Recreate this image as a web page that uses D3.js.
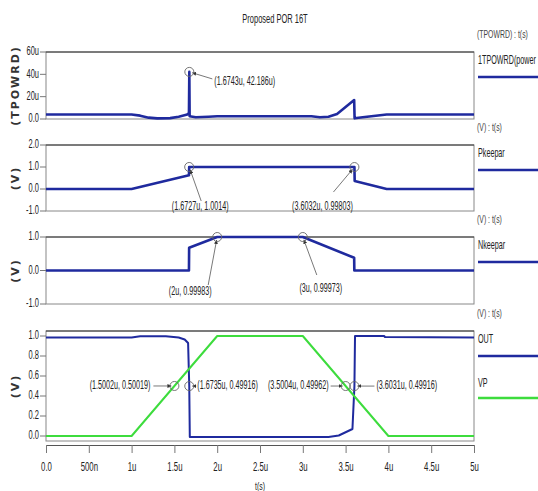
<!DOCTYPE html>
<html>
<head>
<meta charset="utf-8">
<script src="https://cdn.jsdelivr.net/npm/d3@7"></script>
<style>
  body { margin: 0; background: #fff; }
  svg { display: block; }
  text { font-family: "Liberation Sans", Arial, sans-serif; fill: #222; }
  .ylab { font-family: "DejaVu Sans", sans-serif; font-weight: bold; font-size: 11px; letter-spacing: 2px; fill: #333; }
</style>
</head>
<body>
<svg id="chart"></svg>
<script>
(function() {

  // time axis (microseconds)
  const timeTicks = [0, 0.5, 1, 1.5, 2, 2.5, 3, 3.5, 4, 4.5, 5];
  const timeLabels = ['0.0', '500n', '1u', '1.5u', '2u', '2.5u', '3u', '3.5u', '4u', '4.5u', '5u'];

  // y tick values / labels per panel
  const powTicks = [0, 20, 40, 60];
  const powLabels = ['0.0', '20u', '40u', '60u'];
  const pkTicks = [-1, 0, 1, 2];
  const pkLabels = ['-1.0', '0.0', '1.0', '2.0'];
  const nkTicks = [-1, 0, 1];
  const nkLabels = ['-1.0', '0.0', '1.0'];
  const outTicks = [0, 0.2, 0.4, 0.6, 0.8, 1.0];
  const outLabels = ['0.0', '0.2', '0.4', '0.6', '0.8', '1.0'];

  // series: [t (us), value]
  const tpowrd = [[0, 4], [1.0, 4], [1.1, 3], [1.2, 1.2], [1.3, 0.6], [1.45, 0.8], [1.55, 2], [1.65, 4],
    [1.67, 5.5], [1.6743, 42.186], [1.678, 2.5], [1.75, 1.6], [1.9, 2], [2.0, 2.4], [3.1, 2.4], [3.2, 1.5],
    [3.3, 2], [3.4, 4.5], [3.6, 17], [3.605, 0.6], [3.7, 1.5], [3.98, 4], [5, 4]];
  const pkeepar = [[0, 0], [1, 0], [1.67, 0.62], [1.6727, 1.0014], [3.6032, 0.99803], [3.606, 0.36], [3.98, 0], [5, 0]];
  const nkeepar = [[0, 0], [1.67, 0], [1.672, 0.68], [2, 0.99983], [3, 0.99973], [3.6, 0.38], [3.602, 0], [5, 0]];
  const out = [[0, 0.984], [1, 0.985], [1.1, 0.997], [1.4, 0.997], [1.55, 0.985], [1.62, 0.965], [1.66, 0.93],
    [1.6735, 0.49916], [1.68, -0.01], [3.3, -0.01], [3.42, 0.005], [3.58, 0.07], [3.6031, 0.49916], [3.61, 1.0],
    [3.95, 1.0], [3.96, 0.99], [5, 0.985]];
  const vp = [[0, 0], [1, 0], [2, 1], [3, 1], [4, 0], [5, 0]];

  // cursor markers: [t, value, label]
  const powMarks = [[1.6743, 42.186, '(1.6743u, 42.186u)']];
  const pkMarks = [[1.6727, 1.0014, '(1.6727u, 1.0014)'], [3.6032, 0.99803, '(3.6032u, 0.99803)']];
  const nkMarks = [[2, 0.99983, '(2u, 0.99983)'], [3, 0.99973, '(3u, 0.99973)']];
  const outMarks = [[1.5002, 0.50019, '(1.5002u, 0.50019)'], [1.6735, 0.49916, '(1.6735u, 0.49916)'],
    [3.5004, 0.49962, '(3.5004u, 0.49962)'], [3.6031, 0.49916, '(3.6031u, 0.49916)']];

  const blue = '#1f2a9e';
  const green = '#3ddc3d';
  const SX = 0.6; // the plot's lettering is tall and narrow

  const width = 538, height = 491;
  const left = 46, right = 474;

  const svg = d3.select('#chart').attr('width', width).attr('height', height);

  // narrow text: drawn at (x, y) and squeezed horizontally
  function ntext(parent, x, y, str, size, anchor) {
    return parent.append('text')
      .attr('transform', 'translate(' + x + ',' + y + ') scale(' + SX + ',1)')
      .attr('text-anchor', anchor || 'start')
      .attr('dominant-baseline', 'middle')
      .style('font-size', size + 'px')
      .text(str);
  }

  svg.append('defs').append('marker')
    .attr('id', 'arr')
    .attr('viewBox', '0 0 6 6')
    .attr('refX', 6).attr('refY', 3)
    .attr('markerWidth', 5).attr('markerHeight', 5)
    .attr('orient', 'auto')
    .append('path').attr('d', 'M0,0 L6,3 L0,6 z').attr('fill', '#333');

  const x = d3.scaleLinear().domain([0, 5]).range([left, right]);

  // label layout per marker: [dx, dy, anchor, leaderX, leaderY] relative to the point
  const panels = [
    { top: 52, bottom: 119, domain: [0, 60], ticks: powTicks, labels: powLabels, ylab: '(TPOWRD)',
      head: '(TPOWRD) : t(s)',
      series: [{ data: tpowrd, color: blue, w: 2.6, name: '1TPOWRD(power' }],
      marks: powMarks, layout: [[25, 10, 'start', 23, 7]] },
    { top: 145, bottom: 211, domain: [-1, 2], ticks: pkTicks, labels: pkLabels, ylab: '(V)',
      head: '(V) : t(s)',
      series: [{ data: pkeepar, color: blue, w: 2.6, name: 'Pkeepar' }],
      marks: pkMarks, layout: [[11, 40, 'middle', 12, 34], [-32, 40, 'middle', -21, 25]] },
    { top: 237, bottom: 304, domain: [-1, 1], ticks: nkTicks, labels: nkLabels, ylab: '(V)',
      head: '(V) : t(s)',
      series: [{ data: nkeepar, color: blue, w: 2.6, name: 'Nkeepar' }],
      marks: nkMarks, layout: [[-27, 55, 'middle', -9, 48], [18, 52, 'middle', 14, 38]] },
    { top: 331, bottom: 441, domain: [-0.05, 1.05], ticks: outTicks, labels: outLabels, ylab: '(V)',
      head: '(V) : t(s)',
      series: [{ data: out, color: blue, w: 2, name: 'OUT' }, { data: vp, color: green, w: 2, name: 'VP' }],
      marks: outMarks,
      layout: [[-24, 0, 'end', -21, 0], [8, 0, 'start', 7, 0], [-17, 0, 'end', -15, 0], [22, 0, 'start', 20, 0]] }
  ];

  ntext(svg, 275, 20, 'Proposed POR 16T', 12.5, 'middle');

  panels.forEach(function(p) {
    const y = d3.scaleLinear().domain(p.domain).range([p.bottom, p.top]);
    const g = svg.append('g');

    g.append('rect')
      .attr('x', left).attr('y', p.top)
      .attr('width', right - left).attr('height', p.bottom - p.top)
      .attr('fill', '#fff').attr('stroke', '#888').attr('stroke-width', 1);
    g.append('line')
      .attr('x1', left).attr('x2', right).attr('y1', p.top).attr('y2', p.top)
      .attr('stroke', '#333');

    // y ticks
    p.ticks.forEach(function(t, i) {
      g.append('line')
        .attr('x1', left - 6).attr('x2', left).attr('y1', y(t)).attr('y2', y(t))
        .attr('stroke', '#777');
      ntext(g, left - 7, y(t), p.labels[i], 12.5, 'end');
    });

    g.append('text')
      .attr('class', 'ylab')
      .attr('transform', 'translate(16,' + ((p.top + p.bottom) / 2) + ') rotate(-90)')
      .attr('text-anchor', 'middle').attr('dominant-baseline', 'middle')
      .text(p.ylab);

    const line = d3.line().x(d => x(d[0])).y(d => y(d[1]));
    p.series.forEach(function(s) {
      g.append('path')
        .datum(s.data)
        .attr('d', line)
        .attr('fill', 'none')
        .attr('stroke', s.color)
        .attr('stroke-width', s.w)
        .attr('stroke-linejoin', 'round');
    });

    // legend at right
    ntext(g, 477, p.top - 17, p.head, 11.5).style('fill', '#444');
    p.series.forEach(function(s, i) {
      ntext(g, 478, p.top + 9 + i * 44, s.name, 12);
      g.append('line')
        .attr('x1', 478).attr('x2', 538)
        .attr('y1', p.top + 25 + i * 42).attr('y2', p.top + 25 + i * 42)
        .attr('stroke', s.color).attr('stroke-width', 2.6);
    });

    // cursor markers
    p.marks.forEach(function(m, i) {
      const px = x(m[0]), py = y(m[1]);
      const L = p.layout[i];
      const mg = g.append('g');
      const dx = L[3], dy = L[4];
      const len = Math.sqrt(dx * dx + dy * dy);
      mg.append('line')
        .attr('x1', px + dx).attr('y1', py + dy)
        .attr('x2', px + dx * 3 / len).attr('y2', py + dy * 3 / len)
        .attr('stroke', '#555').attr('stroke-width', 0.8)
        .attr('marker-end', 'url(#arr)');
      mg.append('circle')
        .attr('cx', px).attr('cy', py).attr('r', 4.5)
        .attr('fill', 'none').attr('stroke', '#666').attr('stroke-width', 0.9);
      ntext(mg, px + L[0], py + L[1], m[2], 12, L[2]);
    });
  });

  // time axis under the last panel
  const axisY = 445;
  const axis = svg.append('g')
    .attr('transform', 'translate(0,' + axisY + ')')
    .call(d3.axisBottom(x).tickValues(timeTicks).tickFormat((d, i) => timeLabels[i]).tickSize(8).tickPadding(9));
  axis.select('.domain').attr('stroke', '#555');
  axis.selectAll('.tick line').attr('stroke', '#777');
  axis.selectAll('.tick text')
    .attr('transform', 'scale(' + SX + ',1)')
    .style('font-family', '"Liberation Sans", Arial, sans-serif')
    .style('font-size', '13px').attr('fill', '#222');

  ntext(svg, 260, 487, 't(s)', 11.5, 'middle');

})();
</script>
</body>
</html>
